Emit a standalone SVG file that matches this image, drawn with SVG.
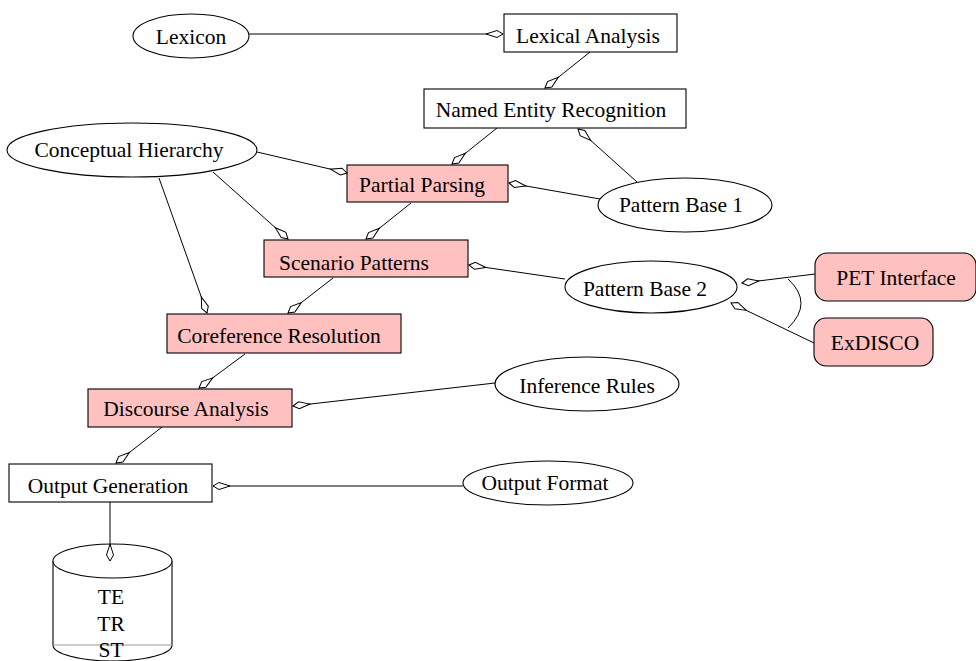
<svg xmlns="http://www.w3.org/2000/svg" width="976" height="661" viewBox="0 0 976 661">
<style>
text{font-family:"Liberation Serif","Times New Roman",serif;font-size:21.5px;fill:#000;text-anchor:middle}
.box{fill:#fff;stroke:#000;stroke-width:1.1}
.pink{fill:#ffc0c0;stroke:#000;stroke-width:1.1}
.ell{fill:#fff;stroke:#000;stroke-width:1.1}
.conn line,.conn path{stroke:#000;stroke-width:1;fill:none}
</style>
<defs>
<marker id="dia" markerWidth="20" markerHeight="10" refX="0" refY="0" orient="auto" markerUnits="userSpaceOnUse" overflow="visible">
<path d="M0,0 L-6,-3.5 L-17,0 L-6,3.5 Z" fill="#fff" stroke="#000" stroke-width="1"/>
</marker>
</defs>
<rect width="976" height="661" fill="#fff"/>
<g id="lexicon"><ellipse class="ell" cx="191" cy="36" rx="58" ry="22"/><text x="191" y="44">Lexicon</text></g>
<g id="lexical-analysis"><rect class="box" x="504" y="14" width="173" height="38"/><text x="588" y="43">Lexical Analysis</text></g>
<g id="ner"><rect class="box" x="424" y="89" width="262" height="39"/><text x="551" y="117">Named Entity Recognition</text></g>
<g id="conceptual-hierarchy"><ellipse class="ell" cx="132" cy="150" rx="125" ry="27"/><text x="129" y="157">Conceptual Hierarchy</text></g>
<g id="partial-parsing"><rect class="pink" x="347" y="165" width="161" height="37"/><text x="422" y="192">Partial Parsing</text></g>
<g id="pattern-base-1"><ellipse class="ell" cx="685" cy="205" rx="87" ry="27"/><text x="681" y="212">Pattern Base 1</text></g>
<g id="scenario-patterns"><rect class="pink" x="264" y="240" width="204" height="37"/><text x="354" y="270">Scenario Patterns</text></g>
<g id="pattern-base-2"><ellipse class="ell" cx="651" cy="287" rx="86" ry="26"/><text x="645" y="296">Pattern Base 2</text></g>
<g id="pet-interface"><rect class="pink" x="815" y="253" width="161" height="48" rx="12"/><text x="896" y="285">PET Interface</text></g>
<g id="exdisco"><rect class="pink" x="814" y="318" width="119" height="48" rx="12"/><text x="875" y="350">ExDISCO</text></g>
<g id="coreference-resolution"><rect class="pink" x="167" y="314" width="234" height="39"/><text x="279" y="343">Coreference Resolution</text></g>
<g id="inference-rules"><ellipse class="ell" cx="587" cy="384" rx="92" ry="27"/><text x="587" y="393">Inference Rules</text></g>
<g id="discourse-analysis"><rect class="pink" x="88" y="389" width="204" height="38"/><text x="186" y="416">Discourse Analysis</text></g>
<g id="output-generation"><rect class="box" x="9" y="464" width="203" height="38"/><text x="108" y="493">Output Generation</text></g>
<g id="output-format"><ellipse class="ell" cx="548" cy="483" rx="85" ry="22"/><text x="545" y="490">Output Format</text></g>
<g id="templates">
<path d="M53,561 L53,645 A59.5,16 0 0 0 172,645 L172,561" fill="#fff" stroke="#000" stroke-width="1.1"/>
<line x1="53" y1="645" x2="172" y2="645" stroke="#999" stroke-width="1"/>
<ellipse class="ell" cx="112.5" cy="561" rx="59.5" ry="17"/>
<text x="111" y="604">TE</text>
<text x="111" y="631">TR</text>
<text x="111" y="657">ST</text>
</g>
<g class="conn">
<line x1="249" y1="34" x2="503" y2="34" marker-end="url(#dia)"/>
<line x1="590" y1="52" x2="545" y2="88" marker-end="url(#dia)"/>
<line x1="497" y1="128" x2="452" y2="164" marker-end="url(#dia)"/>
<line x1="637" y1="182" x2="578" y2="129" marker-end="url(#dia)"/>
<line x1="600" y1="199" x2="509" y2="183" marker-end="url(#dia)"/>
<line x1="257" y1="152" x2="347" y2="173" marker-end="url(#dia)"/>
<line x1="213" y1="172" x2="288" y2="239" marker-end="url(#dia)"/>
<line x1="159" y1="178" x2="207" y2="313" marker-end="url(#dia)"/>
<line x1="411" y1="203" x2="366" y2="239" marker-end="url(#dia)"/>
<line x1="565" y1="279" x2="469" y2="265" marker-end="url(#dia)"/>
<line x1="815" y1="274" x2="742" y2="283" marker-end="url(#dia)"/>
<line x1="814" y1="343" x2="731" y2="303" marker-end="url(#dia)"/>
<path d="M788,279 Q814,303 788,328"/>
<line x1="333" y1="278" x2="288" y2="313" marker-end="url(#dia)"/>
<line x1="245" y1="354" x2="199" y2="388" marker-end="url(#dia)"/>
<line x1="495" y1="383" x2="293" y2="406" marker-end="url(#dia)"/>
<line x1="162" y1="427" x2="116" y2="463" marker-end="url(#dia)"/>
<line x1="463" y1="486" x2="213" y2="486" marker-end="url(#dia)"/>
<line x1="110" y1="502" x2="110" y2="561" marker-end="url(#dia)"/>
</g>
</svg>
